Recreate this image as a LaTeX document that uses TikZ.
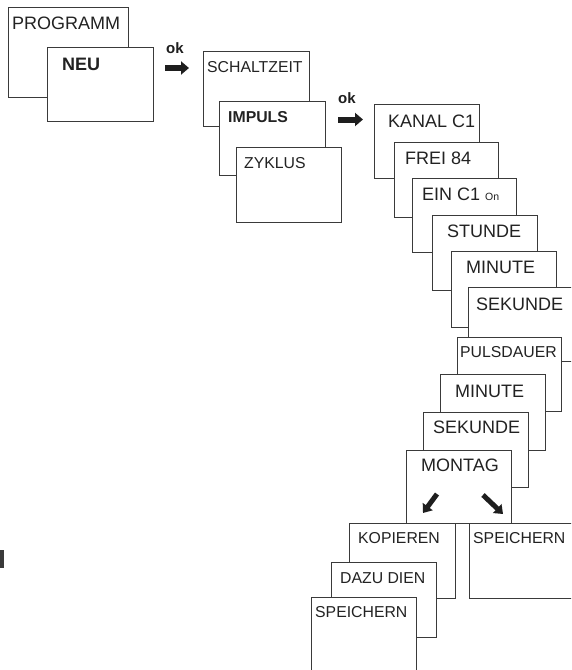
\documentclass[tikz,border=0pt]{standalone}
\usepackage{fontspec}
\setmainfont{Liberation Sans}
\usetikzlibrary{arrows.meta}
\definecolor{ln}{HTML}{3A3A3A}
\definecolor{ink}{HTML}{1E1E1E}
\definecolor{txt}{HTML}{222222}
\begin{document}
\begin{tikzpicture}[x=1pt,y=-1pt,
  scr/.style={draw=ln, line width=1pt, fill=white, inner sep=0pt, anchor=north west},
  big/.style={anchor=base west, inner sep=0pt, text=txt, font=\fontsize{18}{20}\selectfont},
  small/.style={anchor=base west, inner sep=0pt, text=txt, font=\fontsize{15.8}{18}\selectfont},
  okl/.style={anchor=base west, inner sep=0pt, text=ink, font=\bfseries\fontsize{15}{17}\selectfont},
  fat/.style={draw=ink, line width=6pt, -{Triangle[length=8pt,width=13pt]}},
  diag/.style={draw=ink, line width=5pt, -{Triangle[length=8pt,width=12pt]}}]
\clip (0,0) rectangle (571,670);
\fill[white] (0,0) rectangle (571,670);
% macro-free box helper via nodes
\node[scr, minimum width=120pt, minimum height=90pt] (prog) at (8,7) {};
\node[big] (progT) at (12,29) {PROGRAMM};
\node[scr, minimum width=106pt, minimum height=74pt] (neu) at (47,47) {};
\node[big, font=\bfseries\fontsize{18}{20}\selectfont] (neuT) at (62,70) {NEU};
% ok arrow 1
\node[okl] (ok1) at (166,53) {ok};
\coordinate (a1s) at (165,68);
\coordinate (a1e) at (189,68);
\draw[fat] (a1s) -- (a1e);
% second column
\node[scr, minimum width=106pt, minimum height=75pt] (schalt) at (203,51) {};
\node[small] (schaltT) at (207,72) {SCHALTZEIT};
\node[scr, minimum width=106pt, minimum height=74pt] (impuls) at (219,101) {};
\node[small, font=\bfseries\fontsize{15.8}{18}\selectfont] (impulsT) at (228,122) {IMPULS};
\node[scr, minimum width=105pt, minimum height=75pt] (zyklus) at (236,147) {};
\node[small] (zyklusT) at (244,168) {ZYKLUS};
% ok arrow 2
\node[okl] (ok2) at (338,103) {ok};
\coordinate (a2s) at (338,119.5);
\coordinate (a2e) at (363,119.5);
\draw[fat] (a2s) -- (a2e);
% third column
\node[scr, minimum width=105pt, minimum height=74pt] (kanal) at (374,104) {};
\node[big] (kanalT) at (388,127) {KANAL C1};
\node[scr, minimum width=104pt, minimum height=75pt] (frei) at (394,142) {};
\node[big] (freiT) at (405,164) {FREI 84};
\node[scr, minimum width=104pt, minimum height=74pt] (ein) at (412,178) {};
\node[big] (einT) at (422,200) {EIN C1 {\fontsize{10.5}{12}\selectfont On}};
\node[scr, minimum width=105pt, minimum height=75pt] (stunde) at (432,215) {};
\node[big] (stundeT) at (447,237) {STUNDE};
\node[scr, minimum width=105pt, minimum height=76pt] (minute) at (451,251) {};
\node[big] (minuteT) at (466,273) {MINUTE};
\node[scr, minimum width=110pt, minimum height=74pt] (sekunde) at (468,287) {};
\node[big] (sekundeT) at (476,310) {SEKUNDE};
\node[scr, minimum width=104pt, minimum height=74pt] (puls) at (457,337) {};
\node[small] (pulsT) at (460,357) {PULSDAUER};
\node[scr, minimum width=105pt, minimum height=76pt] (minute2) at (440,374) {};
\node[big] (minute2T) at (455,397) {MINUTE};
\node[scr, minimum width=105pt, minimum height=75pt] (sekunde2) at (423,412) {};
\node[big] (sekunde2T) at (433,433) {SEKUNDE};
\node[scr, minimum width=105pt, minimum height=73pt] (montag) at (406,450) {};
\node[big] (montagT) at (421,471) {MONTAG};
\coordinate (d1s) at (437,494);
\coordinate (d1e) at (423,513);
\draw[diag] (d1s) -- (d1e);
\coordinate (d2s) at (483,495);
\coordinate (d2e) at (503,514);
\draw[diag] (d2s) -- (d2e);
% bottom
\node[scr, minimum width=106pt, minimum height=75pt] (kop) at (349,523) {};
\node[small] (kopT) at (358,543) {KOPIEREN};
\node[scr, minimum width=110pt, minimum height=75pt] (speiR) at (469,523) {};
\node[small] (speiRT) at (473,543) {SPEICHERN};
\node[scr, minimum width=105pt, minimum height=75pt] (dazu) at (331,562) {};
\node[small] (dazuT) at (340,583) {DAZU DIEN};
\node[scr, minimum width=105pt, minimum height=85pt] (speiL) at (311,597) {};
\node[small] (speiLT) at (315,617) {SPEICHERN};
% small dark bar at left edge
\fill[ln] (0,550) rectangle (3.5,568);
\end{tikzpicture}
\end{document}
